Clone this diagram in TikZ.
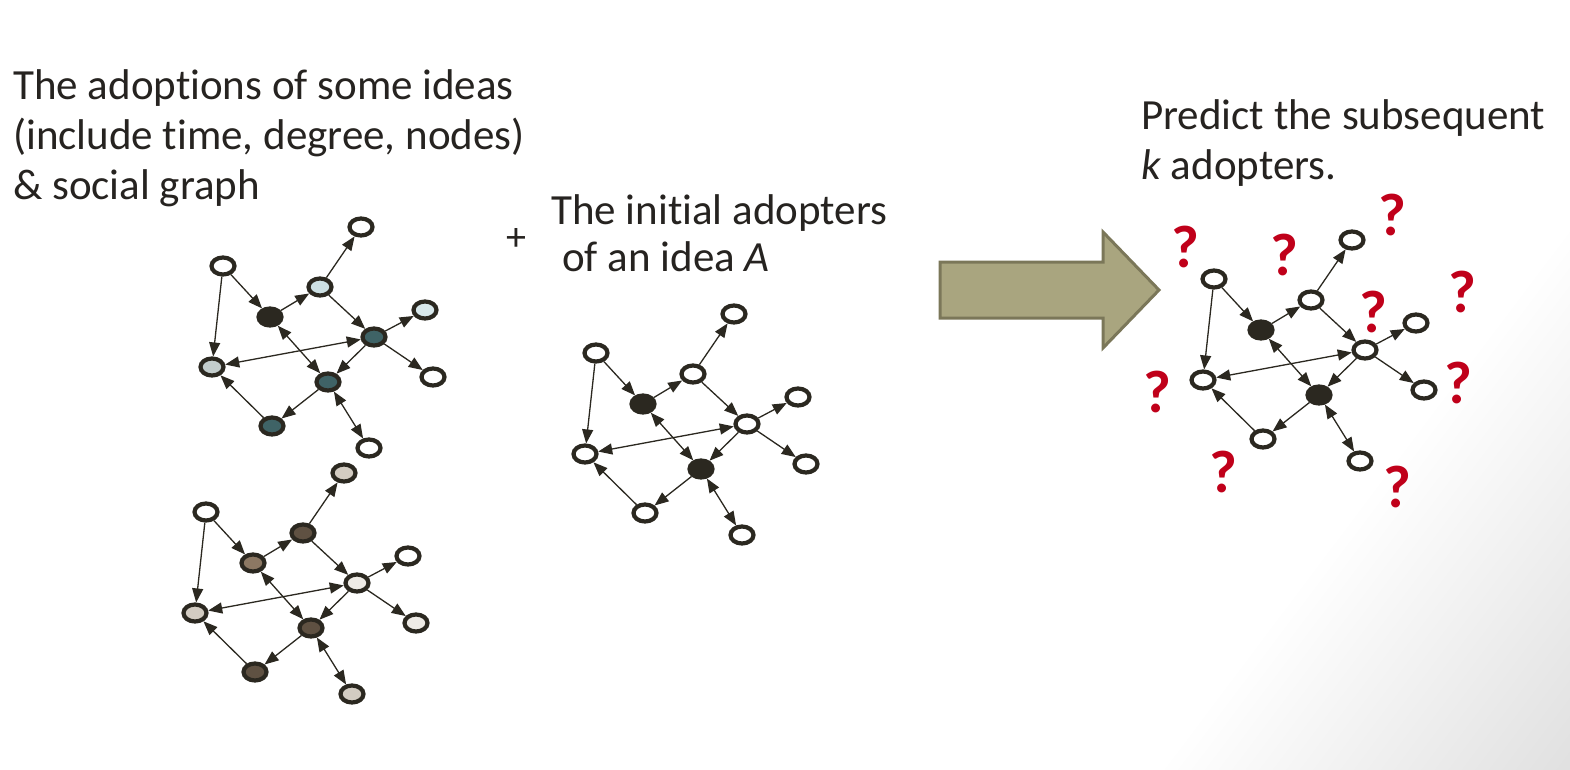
\documentclass[tikz,border=0pt]{standalone}
\usepackage{fontspec}
\setmainfont[RawFeature={-liga}]{Carlito}
\usetikzlibrary{shapes.geometric,arrows.meta}
\definecolor{ink}{HTML}{2B2820}
\definecolor{txt}{HTML}{262320}
\definecolor{qred}{HTML}{C0001A}
\definecolor{arrfill}{HTML}{A9A57F}
\definecolor{arrline}{HTML}{7B7759}
\definecolor{lblue}{HTML}{CDE0E3}
\definecolor{lblueb}{HTML}{D8E8EB}
\definecolor{lgrayb}{HTML}{C3CDCC}
\definecolor{teal}{HTML}{3F6366}
\definecolor{beige}{HTML}{D3CCC2}
\definecolor{mbrown}{HTML}{8C7863}
\definecolor{dbrown}{HTML}{5F5142}
\definecolor{vlight}{HTML}{EEEBE6}
\tikzset{
  >={Triangle[length=14pt,width=11pt]},
  gn/.style={ellipse,draw=ink,line width=4.2pt,fill=white,minimum width=23pt,minimum height=17pt,inner sep=0pt},
  ed/.style={line width=1.3pt,draw=ink},
  lbl/.style={anchor=base west,inner sep=0pt,text=txt,font=\fontsize{43}{50}\selectfont},
  qm/.style={inner sep=0pt,text=qred,font=\fontsize{60}{60}\selectfont\bfseries},
  % graph 1
  g1-b/.style={fill=ink}, g1-c/.style={fill=lblue}, g1-d/.style={fill=teal},
  g1-e/.style={fill=lblueb}, g1-g/.style={fill=lgrayb}, g1-h/.style={fill=teal}, g1-i/.style={fill=teal},
  % graph 2
  g2-t/.style={fill=beige}, g2-b/.style={fill=mbrown}, g2-c/.style={fill=dbrown}, g2-d/.style={fill=vlight},
  g2-f/.style={fill=vlight}, g2-g/.style={fill=beige}, g2-h/.style={fill=dbrown}, g2-i/.style={fill=dbrown}, g2-j/.style={fill=beige},
  % graph 3 and 4
  g3-b/.style={fill=ink}, g3-h/.style={fill=ink},
  g4-b/.style={fill=ink}, g4-h/.style={fill=ink},
}
\newcommand\graphnet[3]{%
\begin{scope}[shift={(#2,#3)}]
\node[gn,#1-a/.try] (#1a) at (223,266) {};
\node[gn,#1-t/.try] (#1t) at (361,227) {};
\node[gn,#1-b/.try] (#1b) at (270,317) {};
\node[gn,#1-c/.try] (#1c) at (320,287) {};
\node[gn,#1-d/.try] (#1d) at (374,337) {};
\node[gn,#1-e/.try] (#1e) at (425,310) {};
\node[gn,#1-f/.try] (#1f) at (433,377) {};
\node[gn,#1-g/.try] (#1g) at (212,367) {};
\node[gn,#1-h/.try] (#1h) at (328,382) {};
\node[gn,#1-i/.try] (#1i) at (272,426) {};
\node[gn,#1-j/.try] (#1j) at (369,448) {};
\draw[ed,->] (#1a) -- (#1b);
\draw[ed,->] (#1a) -- (#1g);
\draw[ed,->] (#1b) -- (#1c);
\draw[ed,->] (#1c) -- (#1t);
\draw[ed,->] (#1c) -- (#1d);
\draw[ed,->] (#1d) -- (#1e);
\draw[ed,->] (#1d) -- (#1f);
\draw[ed,<->] (#1d) -- (#1g);
\draw[ed,<->] (#1b) -- (#1h);
\draw[ed,->] (#1d) -- (#1h);
\draw[ed,->] (#1h) -- (#1i);
\draw[ed,->] (#1i) -- (#1g);
\draw[ed,<->] (#1h) -- (#1j);
\end{scope}}
\begin{document}
\begin{tikzpicture}[x=1pt,y=-1pt]
\useasboundingbox (0,0) rectangle (1570,770);
\fill[white] (0,0) rectangle (1570,770);
\begin{scope}
\clip (0,0) rectangle (1570,770);
\begin{scope}[transform canvas={shift={(1110,832)},rotate=-37}]
\shade[left color=white,right color=black!12] (0,-1500) rectangle (330,1500);
\end{scope}
\end{scope}
% texts
\node[lbl] (t1) at (13,100) {The adoptions of some ideas};
\node[lbl] (t2) at (13,150) {(include time, degree, nodes)};
\node[lbl] (t3) at (13,200) {\& social graph};
\node[lbl] (t4) at (551,224) {The initial adopters};
\node[lbl] (t5) at (562,271) {of an idea \textit{A}};
\node[lbl] (t6) at (1141,130) {Predict the subsequent};
\node[lbl] (t7) at (1141,180) {\textit{k} adopters.};
\node[inner sep=0pt,text=txt,font=\fontsize{40}{40}\selectfont] (plus) at (516,240) {+};
% graphs
\graphnet{g1}{0}{0}
\graphnet{g2}{-17}{246}
\graphnet{g3}{373}{87}
\graphnet{g4}{991}{13}
% big arrow
\filldraw[fill=arrfill,draw=arrline,line width=3pt,line join=miter]
  (940,262) -- (1103,262) -- (1103,232) -- (1159,290) -- (1103,348) -- (1103,318) -- (940,318) -- cycle;
% question marks
\node[qm] (q1) at (1185,247) {?};
\node[qm] (q2) at (1284,255) {?};
\node[qm] (q3) at (1392,215) {?};
\node[qm] (q4) at (1462,292) {?};
\node[qm] (q5) at (1373,312) {?};
\node[qm] (q6) at (1157,392) {?};
\node[qm] (q7) at (1458,383) {?};
\node[qm] (q8) at (1223,472) {?};
\node[qm] (q9) at (1397,487) {?};
\end{tikzpicture}
\end{document}
